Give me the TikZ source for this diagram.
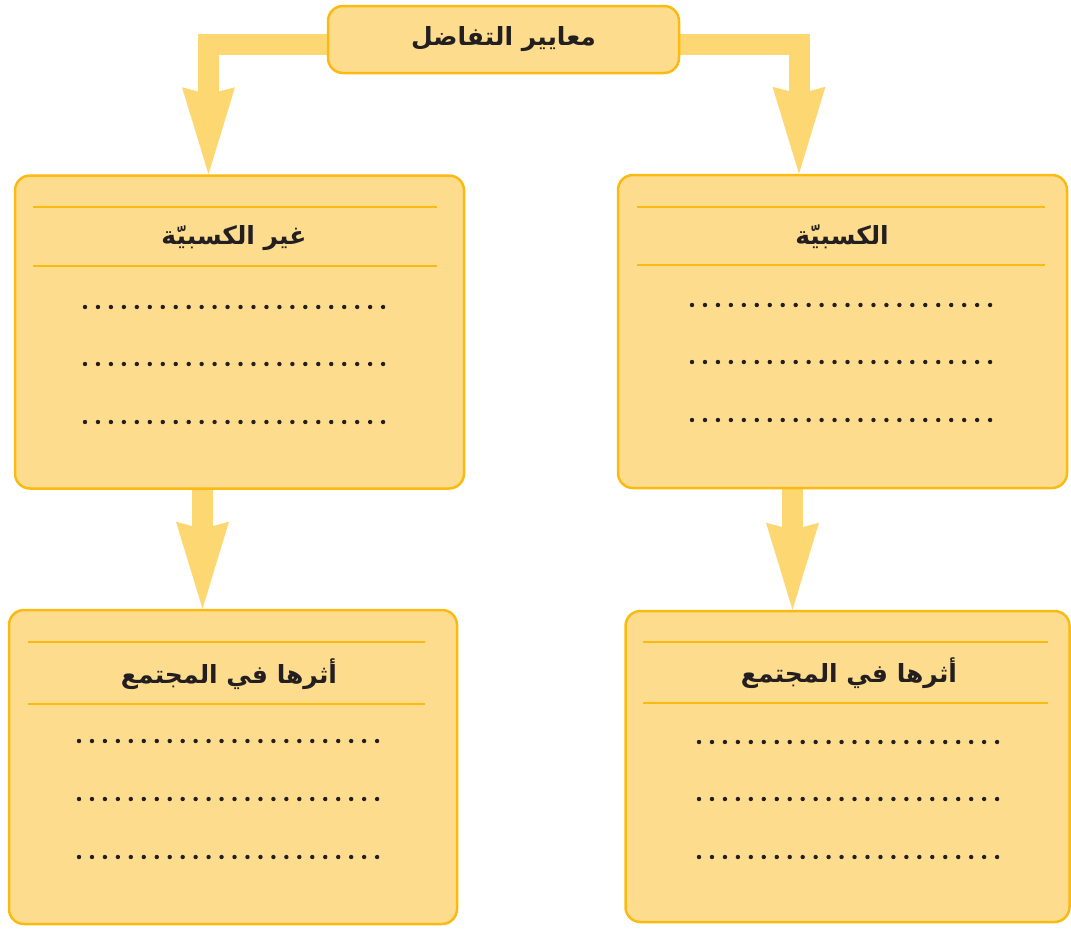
\documentclass[tikz,border=0pt]{standalone}
\usepackage{fontspec}
\newfontfamily\arabicfont[Script=Arabic]{DejaVu Sans}
\TeXXeTstate=1
\usetikzlibrary{arrows.meta,calc,backgrounds}
\definecolor{boxfill}{HTML}{FDDC8E}
\definecolor{boxline}{HTML}{FBBA12}
\definecolor{arrowc}{HTML}{FDD771}
\definecolor{dotc}{HTML}{231F20}
\tikzset{
  card/.style={draw=boxline, fill=boxfill, line width=2.5pt, rounded corners=15pt, inner sep=0pt},
  headline/.style={draw=boxline, line width=2.5pt},
  titletext/.style={font=\arabicfont\bfseries\fontsize{25}{30}\selectfont, text=dotc, inner sep=0pt},
  dotrow/.style={draw=dotc, line width=4.4pt, line cap=round, dash pattern=on 0pt off 12.96pt},
  conn/.style={draw=arrowc, line width=21pt, line join=miter,
    -{Stealth[length=87pt, width=53pt, inset=7pt, line width=0pt]}},
}
\begin{document}
\begin{tikzpicture}[x=1pt, y=-1pt]
\useasboundingbox (0,0) rectangle (1071,929);

% boxes
\node[card, minimum width=351pt, minimum height=67pt] (top) at (503.5,39.5) {};
\node[titletext] (toptitle) at (503.5,39) {\beginR معايير التفاضل\endR};

\node[card, minimum width=449pt, minimum height=313pt] (box1) at (239.5,332) {};
\node[card, minimum width=449pt, minimum height=313pt] (box2) at (842.5,331.5) {};
\node[card, minimum width=448pt, minimum height=314pt] (box3) at (233,767) {};
\node[card, minimum width=444pt, minimum height=311pt] (box4) at (847.5,766.5) {};

% connectors
\begin{scope}[on background layer]
\draw[conn] ([yshift=-5pt]top.west) -| ([xshift=-31pt]box1.north);
\draw[conn] ([yshift=-5pt]top.east) -| ([xshift=-43.5pt]box2.north);
\draw[conn] ([xshift=-37pt]box1.south) -- ([xshift=-37pt]box1.south |- box3.north);
\draw[conn] ([xshift=-50pt]box2.south) -- ([xshift=-50pt]box2.south |- box4.north);
\end{scope}

% box 1
\draw[headline] (33,207) -- (437,207);
\draw[headline] (33,266) -- (437,266);
\node[titletext] (t1) at (234,238) {\beginR غير الكسبيّة\endR};
\draw[dotrow] (85,307) -- (383.5,307);
\draw[dotrow] (85,364) -- (383.5,364);
\draw[dotrow] (85,422) -- (383.5,422);

% box 2
\draw[headline] (637,207) -- (1045,207);
\draw[headline] (637,265) -- (1045,265);
\node[titletext] (t2) at (842,237) {\beginR الكسبيّة\endR};
\draw[dotrow] (692,305) -- (994.5,305);
\draw[dotrow] (692,362) -- (994.5,362);
\draw[dotrow] (692,420) -- (994.5,420);

% box 3
\draw[headline] (28,642) -- (425,642);
\draw[headline] (28,704) -- (425,704);
\node[titletext] (t3) at (229,674) {\beginR أثرها في المجتمع\endR};
\draw[dotrow] (79,741) -- (380.5,741);
\draw[dotrow] (79,799) -- (380.5,799);
\draw[dotrow] (79,857) -- (380.5,857);

% box 4
\draw[headline] (643,642) -- (1048,642);
\draw[headline] (643,703) -- (1048,703);
\node[titletext] (t4) at (849,673) {\beginR أثرها في المجتمع\endR};
\draw[dotrow] (699,742) -- (997.5,742);
\draw[dotrow] (699,799) -- (997.5,799);
\draw[dotrow] (699,857) -- (997.5,857);
\end{tikzpicture}
\end{document}
